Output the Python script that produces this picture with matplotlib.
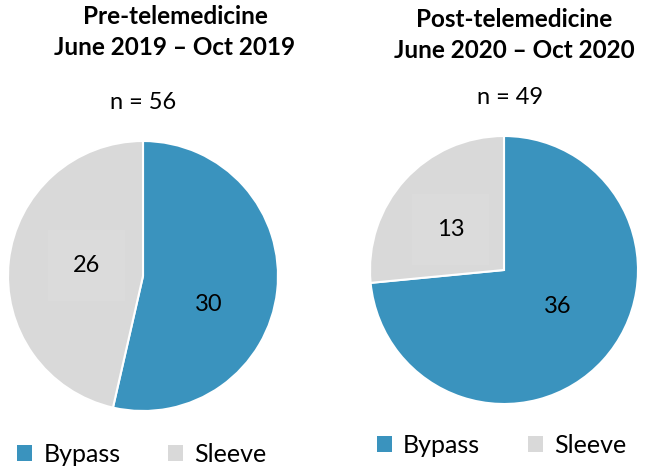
import matplotlib.pyplot as plt
from matplotlib.patches import Patch

plt.rcParams['font.family'] = ['Lato', 'DejaVu Sans']

categories = ['Bypass', 'Sleeve']
colors = ['#3A93BE', '#D9D9D9']

pre_values = [30, 26]
post_values = [36, 13]

pre_title = 'Pre-telemedicine\nJune 2019 \u2013 Oct 2019'
post_title = 'Post-telemedicine\nJune 2020 \u2013 Oct 2020'

W, H = 645, 469
fig = plt.figure(figsize=(W / 100, H / 100), dpi=100)


def px_axes(cx, cy, r):
    # square axes in pixel units, pie of radius 1 fills it
    return fig.add_axes([(cx - r) / W, (H - cy - r) / H, 2 * r / W, 2 * r / H])


def draw_pie(ax, values, label_pos):
    wedges, _ = ax.pie(values, colors=colors, startangle=90, counterclock=False,
                       radius=1, wedgeprops=dict(edgecolor='white', linewidth=1.5))
    ax.set_xlim(-1, 1)
    ax.set_ylim(-1, 1)
    ax.set_aspect('equal')
    ax.axis('off')
    for v, (x, y), c in zip(values, label_pos, colors):
        box = None
        if c == '#D9D9D9':
            box = dict(facecolor='#DBDBDB', edgecolor='none', pad=18)
        ax.text(x, y, str(v), ha='center', va='center', fontsize=17,
                color='black', bbox=box)
    return wedges


ax1 = px_axes(143, 276, 135)
w1 = draw_pie(ax1, pre_values, [(0.49, -0.21), (-0.42, 0.08)])

ax2 = px_axes(504, 270, 134)
w2 = draw_pie(ax2, post_values, [(0.40, -0.27), (-0.40, 0.30)])

# titles
fig.text(175 / W, 1 - 32 / H, pre_title, ha='center', va='center',
         fontsize=17.5, fontweight='bold', linespacing=1.38)
fig.text(514 / W, 1 - 35 / H, post_title, ha='center', va='center',
         fontsize=17.5, fontweight='bold', linespacing=1.38)

fig.text(143 / W, 1 - 102 / H, 'n = %d' % sum(pre_values), ha='center',
         va='center', fontsize=17)
fig.text(510 / W, 1 - 98 / H, 'n = %d' % sum(post_values), ha='center',
         va='center', fontsize=17)

handles = [Patch(facecolor=c, edgecolor='none') for c in colors]
for x, y in [(17, 454), (377, 445)]:
    fig.legend(handles, categories, loc='center left',
               bbox_to_anchor=(x / W, 1 - y / H), ncol=2, frameon=False,
               fontsize=18, handlelength=0.6, handleheight=0.6,
               handletextpad=0.45, columnspacing=1.9, borderpad=0,
               borderaxespad=0)

plt.savefig('out.png', dpi=100)
